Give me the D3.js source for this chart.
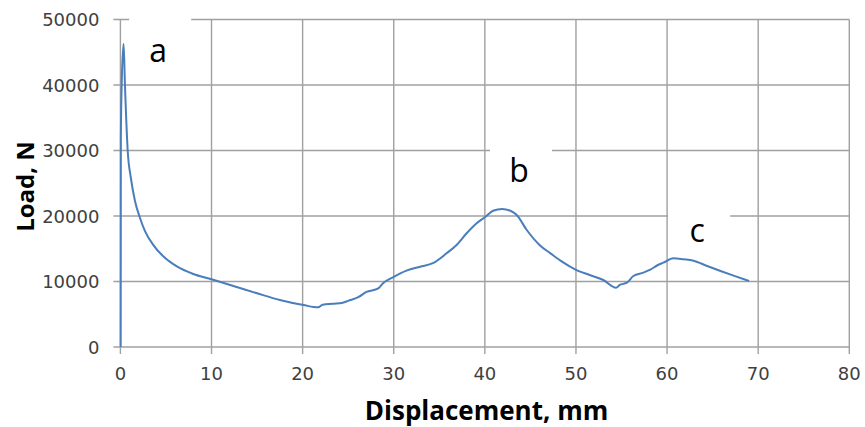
<!DOCTYPE html>
<html>
<head>
<meta charset="utf-8">
<script src="https://cdn.jsdelivr.net/npm/d3@7"></script>
<style>
    body { margin: 0; background: #fff; }
    svg { display: block; }
</style>
</head>
<body>
<div id="chart"></div>
<script>

// displacement (mm) and load (N)
var displacement = [0.03, 0.05, 0.14, 0.35, 0.5, 0.8, 1.15, 1.6, 2.15, 2.7, 3.6, 4.7, 6.2, 8.0, 10.0, 12.4,
    15.0, 17.5, 20.1, 21.7, 22.2, 23.3, 24.4, 25.0, 26.1, 27.0, 28.3, 28.8, 30.0, 31.4, 32.9,
    34.3, 35.8, 36.9, 38.0, 39.1, 40.0, 40.9, 41.9, 42.8, 43.5, 44.6, 46.0, 47.2, 48.3, 49.9, 51.5, 53.0, 54.4,
    54.8, 55.6, 56.3, 57.4, 58.1, 59.0, 59.6, 60.7, 61.8, 62.9, 64.4, 67.3, 69.0]
var load = [0, 32000, 40000, 46300, 40000, 30000, 25800, 22300, 19700, 17700, 15600, 13850, 12300, 11150, 10340, 9310,
    8200, 7180, 6400, 6050, 6450, 6600, 6750, 7050, 7600, 8400, 8950, 9700, 10700, 11650, 12260,
    12800, 14300, 15580, 17360, 18890, 19800, 20800, 21070, 20800, 20150, 17860, 15580, 14300, 13180, 11860, 10990, 10230, 9060,
    9470, 9820, 10840, 11350, 11760, 12520, 12870, 13540, 13390, 13180, 12370, 10890, 10080]

var xTicks = [0, 10, 20, 30, 40, 50, 60, 70, 80]
var yTicks = [0, 10000, 20000, 30000, 40000, 50000]

// peak labels (position of the text baseline, in data units)
var peakNames = ['a', 'b', 'c']
var peakX = [4.15, 43.75, 63.3]
var peakY = [43500, 25250, 16100]

var width = 865, height = 427
var margin = {top: 19.5, right: 15.7, bottom: 80, left: 120.4}

var svg = d3.select('#chart')
    .append('svg')
        .attr('width', width)
        .attr('height', height)

var x = d3.scaleLinear().domain([0, 80]).range([margin.left, width - margin.right])
var y = d3.scaleLinear().domain([0, 50000]).range([height - margin.bottom, margin.top])

var gridColor = '#a0a0a0'

// vertical grid
svg.append('g')
    .selectAll('line')
    .data(xTicks)
    .enter()
    .append('line')
        .attr('x1', function(d) { return x(d) })
        .attr('x2', function(d) { return x(d) })
        .attr('y1', y(50000))
        .attr('y2', y(0) + 7)
        .style('stroke', gridColor)
        .style('stroke-width', 1.4)

// horizontal grid
svg.append('g')
    .selectAll('line')
    .data(yTicks)
    .enter()
    .append('line')
        .attr('x1', x(0) - 7)
        .attr('x2', x(80))
        .attr('y1', function(d) { return y(d) })
        .attr('y2', function(d) { return y(d) })
        .style('stroke', gridColor)
        .style('stroke-width', 1.4)

// tick labels
svg.append('g')
    .selectAll('text')
    .data(xTicks)
    .enter()
    .append('text')
        .attr('x', function(d) { return x(d) })
        .attr('y', y(0) + 33)
        .attr('text-anchor', 'middle')
        .style('font-family', 'DejaVu Sans')
        .style('font-size', '18px')
        .style('fill', '#404040')
        .text(function(d) { return d })

svg.append('g')
    .selectAll('text')
    .data(yTicks)
    .enter()
    .append('text')
        .attr('x', x(0) - 21)
        .attr('y', function(d) { return y(d) + 6.5 })
        .attr('text-anchor', 'end')
        .style('font-family', 'DejaVu Sans')
        .style('font-size', '18px')
        .style('fill', '#404040')
        .text(function(d) { return d })

// axis titles
svg.append('text')
    .attr('x', 486.5)
    .attr('y', 420)
    .attr('text-anchor', 'middle')
    .style('font-family', 'Open Sans')
    .style('font-weight', 'bold')
    .style('font-size', '26px')
    .text('Displacement, mm')

svg.append('text')
    .attr('transform', 'translate(34,186.5) rotate(-90)')
    .attr('text-anchor', 'middle')
    .style('font-family', 'Open Sans')
    .style('font-weight', 'bold')
    .style('font-size', '24px')
    .text('Load, N')

// the load curve
var line = d3.line()
    .x(function(d, i) { return x(displacement[i]) })
    .y(function(d, i) { return y(load[i]) })
    .curve(d3.curveMonotoneX)

svg.append('path')
    .datum(load)
    .attr('d', line)
    .style('fill', 'none')
    .style('stroke', '#4a7ebb')
    .style('stroke-width', 2)

// labels sit on white boxes that hide the grid behind them
var labels = svg.append('g')
    .selectAll('g')
    .data(peakNames)
    .enter()
    .append('g')

labels.append('rect')
    .attr('x', function(d, i) { return x(peakX[i]) - 29 })
    .attr('y', function(d, i) { return y(peakY[i]) - 48 })
    .attr('width', 62)
    .attr('height', 58)
    .style('fill', '#fff')

labels.append('text')
    .attr('x', function(d, i) { return x(peakX[i]) })
    .attr('y', function(d, i) { return y(peakY[i]) })
    .attr('text-anchor', 'middle')
    .style('font-family', 'Open Sans')
    .style('font-size', '32px')
    .style('fill', '#000')
    .text(function(d) { return d })

</script>
</body>
</html>
